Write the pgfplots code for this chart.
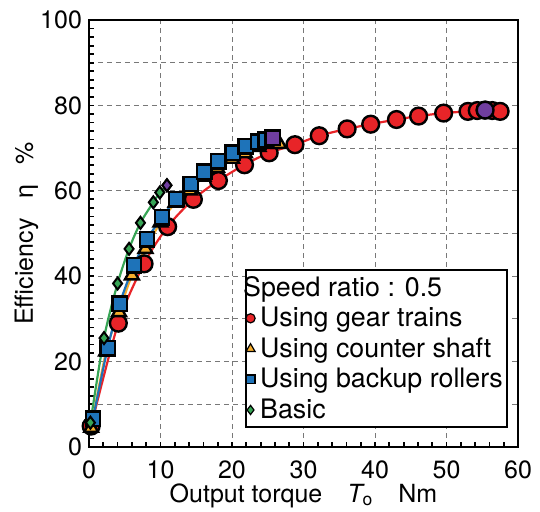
\documentclass[border=0pt]{standalone}
\usepackage{fontspec}
\setmainfont{TeX Gyre Heros}
\newfontfamily\grk{Liberation Sans}
\usepackage{pgfplots}
\pgfplotsset{compat=1.18}
\definecolor{cred}{RGB}{232,36,40}
\definecolor{corange}{RGB}{245,172,45}
\definecolor{cblue}{RGB}{30,115,185}
\definecolor{cgreen}{RGB}{55,165,85}
\definecolor{cpurple}{RGB}{112,62,160}
\definecolor{cgrid}{RGB}{120,120,120}
\begin{document}
\begin{tikzpicture}[font=\fontsize{12.5}{15}\selectfont]
\begin{axis}[
  name=ax, at={(0,0)}, anchor=south west,
  scale only axis, width=214.5pt, height=213.5pt,
  xmin=0, xmax=60, ymin=0, ymax=100,
  xtick={0,10,...,60}, ytick={0,10,...,100},
  yticklabels={0,,20,,40,,60,,80,,100},
  minor x tick num=4, minor y tick num=4,
  tick pos=left, tick align=inside,
  major tick length=2.5pt, minor tick length=2.5pt,
  tick style={black, line width=0.9pt},
  axis line style={line width=1.2pt},
  grid=major,
  major grid style={cgrid, line width=0.5pt, dash pattern=on 2.5pt off 2pt},
  /pgf/number format/assume math mode=true,
  xticklabel style={yshift=-3.5pt},
  xlabel={Output torque\quad {\itshape T}\textsubscript{o}\quad Nm},
  xlabel style={at={(axis description cs:0.5,0)}, anchor=base, yshift=-27.5pt},
  ylabel={Efficiency\hspace{0.8em}{\grk η}\hspace{0.8em}\%},
  ylabel style={at={([xshift=-28pt]axis description cs:0,0.5)}, anchor=base, rotate=0},
  legend style={at={(axis description cs:0.3635,0.4169)}, anchor=north west,
    draw=black, line width=1pt, font=\fontsize{13.4}{15}\selectfont,
    cells={anchor=west}, inner xsep=0pt, inner ysep=1pt},
  legend image code/.code={\draw[#1] plot coordinates {(0pt,0pt)}; \path[draw=none] (0pt,0pt) -- (2.8pt,0pt);},
]
% legend
\addlegendimage{empty legend}
\addlegendentry{\hspace{-8.5pt}Speed ratio : 0.5}
\addlegendimage{only marks, mark=*, mark size=2.3pt, mark options={fill=cred, draw=black, line width=0.6pt}}
\addlegendentry{Using gear trains}
\addlegendimage{only marks, mark=triangle*, mark size=2.6pt, mark options={fill=corange, draw=black, line width=0.6pt}}
\addlegendentry{Using counter shaft}
\addlegendimage{only marks, mark=square*, mark size=2.2pt, mark options={fill=cblue, draw=black, line width=0.6pt}}
\addlegendentry{Using backup rollers}
\addlegendimage{only marks, mark=diamond*, mark size=2.3pt, mark options={fill=cgreen, draw=black, line width=0.6pt}}
\addlegendentry{Basic}
% gear trains
\addplot[forget plot, cred, line width=1.1pt, smooth, mark=*, mark size=4.2pt,
  mark options={fill=cred, draw=black, line width=1.2pt}] coordinates {
(0.3,4.9) (4.1,29.0) (7.7,42.9) (11.0,51.6) (14.6,58.0) (18.1,62.4)
(21.75,66.1) (25.2,68.9) (28.8,70.8) (32.2,72.9) (36.1,74.5) (39.4,75.6)
(43.0,76.7) (46.1,77.5) (49.6,78.2) (53.0,78.6) (54.3,78.8) (55.4,78.9)
(56.4,78.8) (57.5,78.6)};
% counter shaft
\addplot[forget plot, corange, line width=1.1pt, smooth, mark=triangle*, mark size=4pt,
  mark options={fill=corange, draw=black, line width=1.2pt}] coordinates {
(0.3,4.5) (2.4,22.4) (4.2,31.6) (6.0,40.2) (7.9,46.4) (10.0,52.6)
(12.1,57.2) (14.1,60.1) (16.0,63.3) (17.9,65.4) (20.0,67.5) (21.8,68.8)
(23.7,70.3) (25.5,71.0) (26.6,71.0)};
% backup rollers
\addplot[forget plot, cblue, line width=1.1pt, smooth, mark=square*, mark size=3.6pt,
  mark options={fill=cblue, draw=black, line width=1.2pt}] coordinates {
(0.56,6.6) (2.6,23.1) (4.3,33.6) (6.3,42.6) (8.1,48.6) (10.2,53.8)
(12.2,58.1) (14.2,61.6) (16.1,64.5) (18.1,66.9) (20.1,68.9) (21.9,70.4)
(23.7,71.5) (24.7,72.0) (25.7,72.4)};
% basic
\addplot[forget plot, cgreen, line width=1.1pt, smooth, mark=diamond*, mark size=3pt,
  mark options={fill=cgreen, draw=black, line width=1pt}] coordinates {
(0.2,5.7) (2.1,25.5) (4.0,38.3) (5.6,46.4) (7.2,52.5) (9.0,57.3)
(9.9,59.6) (10.9,61.3)};
% maxima (purple)
\addplot[forget plot, only marks, mark=*, mark size=4.2pt,
  mark options={fill=cpurple, draw=black, line width=1.2pt}] coordinates {(55.4,78.9)};
\addplot[forget plot, only marks, mark=square*, mark size=3.6pt,
  mark options={fill=cpurple, draw=black, line width=1.2pt}] coordinates {(25.7,72.4)};
\addplot[forget plot, only marks, mark=diamond*, mark size=3pt,
  mark options={fill=cpurple, draw=black, line width=1pt}] coordinates {(10.9,61.3)};
\end{axis}
\pgfresetboundingbox
\path (-44.5pt,-32pt) rectangle (225.5pt,223.5pt);
\end{tikzpicture}
\end{document}
